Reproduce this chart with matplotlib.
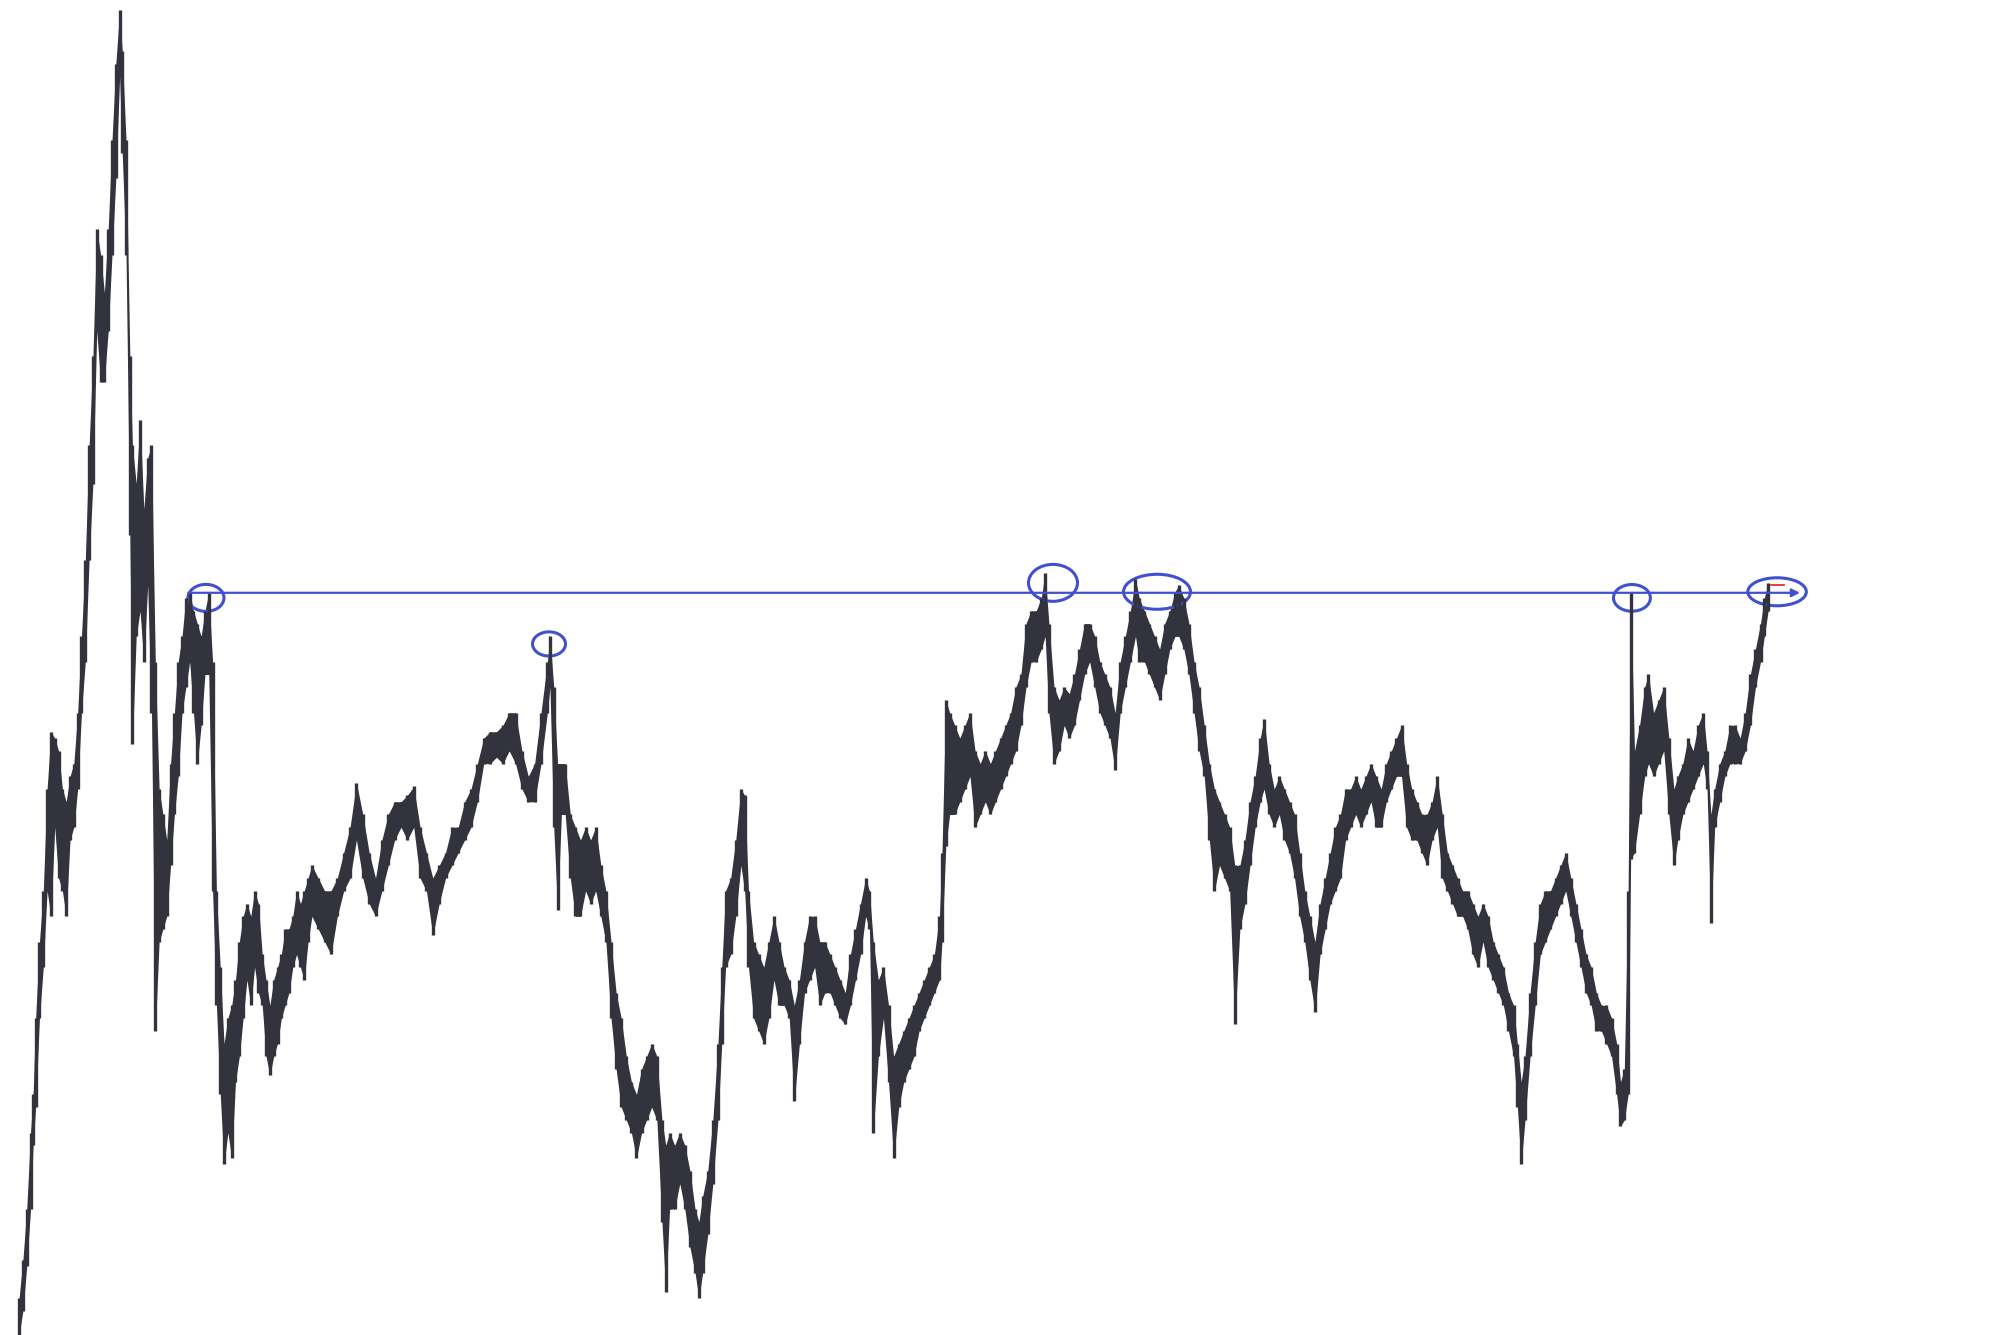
import numpy as np
import matplotlib
matplotlib.use("Agg")
import matplotlib.pyplot as plt
from matplotlib.patches import Ellipse

# ── Price bars (time index, high, low) ──────────────────────────────────────
bar_t = [
    15, 18, 21, 24, 26, 28, 31, 34, 37, 40, 43, 46, 49, 52, 55, 58, 61, 64, 67, 70,
    73, 76, 79, 82, 85, 88, 91, 94, 96, 99, 102, 104, 107, 110, 113, 116, 119, 122, 125, 128,
    131, 134, 137, 140, 143, 146, 149, 152, 155, 158, 161, 164, 167, 170, 173, 176, 179, 182, 185, 188,
    191, 194, 197, 200, 203, 206, 209, 212, 215, 218, 221, 224, 227, 230, 233, 236, 239, 242, 245, 250,
    255, 260, 265, 270, 275, 280, 285, 290, 295, 300, 305, 310, 315, 320, 325, 330, 335, 340, 345, 350,
    355, 360, 365, 370, 375, 380, 385, 390, 395, 400, 405, 410, 415, 420, 425, 430, 432, 435, 438, 441,
    444, 448, 452, 456, 460, 464, 468, 472, 476, 480, 484, 488, 492, 496, 500, 504, 508, 512, 516, 520,
    523, 526, 530, 534, 538, 542, 546, 549, 552, 556, 560, 564, 567, 570, 574, 578, 582, 585, 588, 592,
    596, 600, 604, 608, 612, 616, 620, 624, 628, 632, 636, 640, 644, 648, 652, 656, 660, 664, 668, 672,
    676, 680, 683, 686, 690, 694, 698, 702, 706, 710, 714, 718, 722, 726, 730, 734, 738, 740, 743, 746,
    750, 754, 758, 762, 766, 770, 774, 778, 782, 786, 790, 794, 798, 802, 806, 810, 814, 818, 821, 824,
    828, 832, 836, 840, 844, 848, 852, 856, 860, 864, 868, 872, 876, 880, 884, 888, 892, 895, 899, 903,
    907, 911, 915, 919, 923, 926, 930, 934, 938, 942, 946, 950, 954, 958, 962, 966, 970, 974, 978, 982,
    986, 990, 993, 997, 1001, 1005, 1009, 1013, 1017, 1021, 1025, 1029, 1033, 1037, 1041, 1045, 1049, 1053, 1057, 1061,
    1065, 1069, 1073, 1077, 1081, 1085, 1089, 1093, 1097, 1101, 1105, 1109, 1113, 1117, 1121, 1125, 1129, 1133, 1137, 1141,
    1145, 1149, 1153, 1157, 1161, 1165, 1169, 1173, 1177, 1181, 1185, 1189, 1192, 1195, 1198, 1202, 1206, 1210, 1214, 1218,
    1222, 1226, 1230, 1234, 1238, 1242, 1246, 1250, 1254, 1258, 1262, 1266, 1270, 1273, 1276, 1279, 1281, 1284, 1288, 1292,
    1295, 1299, 1303, 1307, 1311, 1315, 1318, 1322, 1326, 1330, 1334, 1338, 1341, 1344, 1347, 1351, 1355, 1359, 1363, 1367,
    1371, 1375, 1379, 1383, 1386, 1389,
]
bar_hi = [
    29, 59, 99, 159, 189, 249, 309, 349, 429, 474, 469, 459, 429, 419, 439, 449, 489, 549, 609, 699,
    769, 869, 849, 819, 869, 939, 999, 1041, 1009, 939, 769, 699, 669, 719, 649, 689, 699, 529, 429, 409,
    389, 449, 489, 529, 549, 579, 584, 569, 559, 549, 569, 583, 529, 349, 289, 229, 249, 259, 279, 309,
    329, 339, 329, 349, 339, 299, 279, 259, 279, 289, 299, 319, 319, 329, 349, 339, 349, 359, 369, 359,
    349, 349, 359, 379, 399, 434, 409, 379, 359, 389, 409, 419, 419, 424, 431, 399, 379, 359, 369, 379,
    399, 399, 419, 429, 449, 469, 474, 474, 479, 489, 489, 459, 439, 449, 489, 529, 549, 509, 449, 449,
    449, 409, 399, 389, 399, 389, 399, 369, 349, 309, 269, 249, 219, 199, 189, 209, 219, 229, 219, 169,
    149, 159, 149, 159, 149, 129, 99, 89, 109, 129, 169, 229, 289, 349, 359, 389, 429, 424, 349, 309,
    299, 289, 309, 329, 309, 289, 279, 259, 279, 309, 329, 329, 309, 309, 299, 289, 279, 269, 299, 319,
    339, 359, 349, 309, 279, 289, 259, 219, 229, 239, 249, 259, 269, 279, 289, 299, 329, 379, 499, 489,
    479, 469, 479, 489, 459, 449, 459, 449, 459, 469, 479, 489, 509, 519, 559, 569, 569, 579, 599, 559,
    509, 499, 509, 504, 519, 539, 559, 559, 549, 529, 519, 509, 489, 529, 549, 569, 594, 579, 569, 559,
    549, 539, 559, 569, 584, 589, 579, 559, 529, 509, 479, 449, 429, 419, 409, 399, 369, 369, 389, 419,
    439, 469, 484, 449, 429, 439, 429, 419, 409, 379, 349, 329, 309, 339, 359, 379, 399, 409, 429, 429,
    439, 429, 439, 449, 439, 429, 449, 459, 469, 479, 449, 429, 419, 409, 409, 419, 439, 409, 379, 369,
    359, 349, 349, 339, 329, 339, 329, 309, 299, 289, 269, 259, 229, 199, 219, 269, 309, 339, 349, 349,
    359, 369, 379, 359, 339, 319, 299, 289, 269, 259, 259, 249, 229, 199, 209, 349, 584, 459, 479, 509,
    519, 489, 499, 509, 469, 429, 439, 449, 469, 459, 479, 489, 459, 409, 429, 449, 459, 479, 479, 469,
    489, 519, 539, 559, 579, 591,
]
bar_lo = [
    0, 19, 54, 99, 149, 179, 249, 289, 349, 329, 399, 359, 349, 329, 389, 399, 429, 489, 529, 609,
    669, 789, 749, 749, 789, 849, 909, 989, 929, 849, 629, 464, 549, 569, 529, 589, 489, 239, 309, 319,
    329, 369, 409, 439, 489, 509, 529, 489, 449, 479, 519, 519, 349, 259, 189, 134, 159, 139, 199, 219,
    249, 279, 259, 289, 269, 259, 219, 204, 219, 229, 249, 259, 269, 289, 299, 289, 279, 309, 329, 319,
    309, 299, 329, 349, 359, 389, 359, 339, 329, 349, 369, 389, 399, 389, 399, 359, 349, 314, 339, 359,
    369, 379, 389, 399, 419, 449, 449, 454, 449, 459, 449, 429, 419, 419, 449, 489, 509, 399, 334, 409,
    409, 359, 329, 329, 349, 339, 349, 329, 309, 249, 209, 179, 169, 159, 139, 159, 169, 179, 169, 89,
    34, 99, 99, 119, 99, 69, 49, 29, 49, 79, 119, 169, 229, 289, 299, 329, 369, 349, 289, 249,
    239, 229, 249, 279, 259, 259, 249, 184, 229, 269, 279, 289, 259, 269, 269, 259, 249, 244, 259, 279,
    299, 329, 319, 159, 219, 249, 199, 139, 179, 199, 209, 219, 239, 249, 259, 269, 279, 309, 384, 409,
    409, 419, 429, 439, 399, 409, 419, 409, 419, 429, 439, 449, 459, 479, 509, 529, 529, 539, 549, 489,
    449, 459, 479, 469, 479, 499, 519, 529, 509, 489, 479, 469, 444, 489, 509, 529, 549, 529, 529, 519,
    509, 499, 519, 539, 549, 549, 539, 519, 489, 459, 439, 389, 349, 369, 359, 349, 244, 319, 339, 369,
    399, 419, 429, 409, 399, 409, 389, 379, 359, 329, 309, 279, 254, 299, 319, 339, 349, 359, 389, 399,
    409, 399, 409, 419, 399, 399, 419, 429, 439, 439, 399, 389, 389, 379, 369, 389, 399, 359, 349, 339,
    329, 329, 319, 299, 289, 309, 289, 279, 269, 259, 239, 219, 179, 134, 169, 219, 259, 299, 309, 319,
    329, 339, 349, 329, 309, 289, 269, 259, 239, 239, 229, 219, 189, 164, 169, 189, 374, 379, 409, 439,
    449, 439, 449, 459, 409, 369, 389, 409, 419, 429, 439, 449, 429, 324, 399, 419, 439, 449, 449, 449,
    459, 479, 509, 529, 549, 569,
]

# ── Annotations ─────────────────────────────────────────────────────────────
level = 583.2                 # resistance line
level_start, level_end = 148, 1414
# ellipse centres (t, price) and sizes (width, height)
circle_t = [161.8, 431.3, 827.2, 908.9, 1282.0, 1396.0]
circle_p = [579.2, 543.0, 591.0, 584.0, 579.2, 584.0]
circle_w = [28.3, 25.9, 38.5, 52.6, 29.0, 46.0]
circle_h = [21.2, 19.0, 29.0, 27.5, 21.0, 22.0]

BAR_COLOR = "#32333d"
BLUE = "#4150d0"

fig = plt.figure(figsize=(19.96, 13.35), dpi=100)
ax = fig.add_axes([0, 0, 1, 1])
ax.set_xlim(0, 1568)
ax.set_ylim(0, 1049)
ax.axis("off")

t = np.array(bar_t, dtype=float)
hi = np.array(bar_hi, dtype=float)
lo = np.array(bar_lo, dtype=float)

# dense bars: a ribbon between lows and highs, with each bar stroked on top
ax.fill_between(t, lo, hi, color=BAR_COLOR, lw=0)
ax.vlines(t, lo, hi, color=BAR_COLOR, lw=2.4)

# resistance line with arrow
ax.annotate("", xy=(level_end, level), xytext=(level_start, level),
            arrowprops=dict(arrowstyle="-|>", color=BLUE, lw=1.6,
                            mutation_scale=12, shrinkA=0, shrinkB=0))

for ct, cp, cw, ch in zip(circle_t, circle_p, circle_w, circle_h):
    ax.add_patch(Ellipse((ct, cp), cw, ch, fill=False, ec=BLUE, lw=2.2))

# small red marker at the last bar
ax.plot([1391, 1401.5], [589.5, 589.5], color="#e02020", lw=1.2)

fig.savefig("out.png", dpi=100, facecolor="white")
